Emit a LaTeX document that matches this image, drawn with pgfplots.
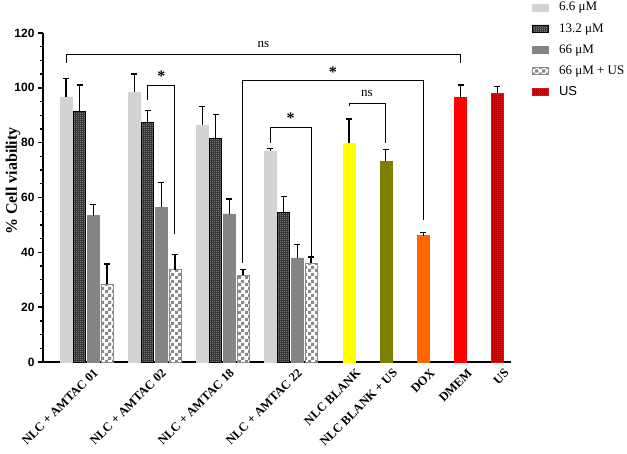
\documentclass[border=0pt]{standalone}
\usepackage{fontspec}
\setmainfont{Liberation Serif}
\newfontfamily\arialfont{Liberation Sans}
\usepackage{pgfplots}
\pgfplotsset{compat=1.18}
\usetikzlibrary{patterns}

% checkerboard fills
\pgfdeclarepatternformonly{finechecker}{\pgfpointorigin}{\pgfpoint{2pt}{2pt}}{\pgfpoint{2pt}{2pt}}{%
  \pgfpathrectangle{\pgfpointorigin}{\pgfpoint{1pt}{1pt}}%
  \pgfpathrectangle{\pgfpoint{1pt}{1pt}}{\pgfpoint{1pt}{1pt}}%
  \pgfusepath{fill}}
\pgfdeclarepatternformonly{coarsechecker}{\pgfpointorigin}{\pgfpoint{7pt}{7pt}}{\pgfpoint{7pt}{7pt}}{%
  \pgfpathrectangle{\pgfpointorigin}{\pgfpoint{3.5pt}{3.5pt}}%
  \pgfpathrectangle{\pgfpoint{3.5pt}{3.5pt}}{\pgfpoint{3.5pt}{3.5pt}}%
  \pgfusepath{fill}}

\definecolor{lgray}{HTML}{D3D3D3}
\definecolor{mgray}{HTML}{858585}
\definecolor{cgray}{HTML}{8A8A8A}
\definecolor{yel}{HTML}{FFFF00}
\definecolor{olv}{HTML}{808000}
\definecolor{org}{HTML}{FF6600}
\definecolor{rd}{HTML}{FF0000}
\definecolor{usred}{HTML}{E01010}
\definecolor{usdark}{HTML}{5A0000}

\begin{document}
\begin{tikzpicture}
\useasboundingbox (-43pt,-92pt) rectangle (584pt,362pt);
\begin{axis}[
  scale only axis,
  width=468pt, height=329pt,
  anchor=south west, at={(0,0)},
  xmin=-1.7, xmax=32.7,
  ymin=0, ymax=120,
  axis x line=bottom, axis y line=left,
  axis line style={-, line width=1.6pt},
  ytick={0,20,...,120},
  minor y tick num=3,
  tick align=outside,
  ytick style={line width=1.4pt, black},
  major tick length=5pt, minor tick length=3pt,
  yticklabel style={font=\arialfont\bfseries\fontsize{12}{14}\selectfont},
  /pgf/number format/assume math mode=true,
  xtick={1.5,6.5,11.5,16.5,20.8,23.5,26.25,29,31.7},
  xticklabels={NLC + AMTAC 01, NLC + AMTAC 02, NLC + AMTAC 18, NLC + AMTAC 22, NLC BLANK, NLC BLANK + US, DOX, DMEM, US},
  xtick style={draw=none},
  xticklabel style={rotate=45, anchor=north east, font=\bfseries\fontsize{12.5}{14}\selectfont, inner sep=1pt, xshift=5pt, yshift=-4pt},
  ylabel={\% Cell viability},
  every axis y label/.style={at={(axis description cs:-0.041,0.55)}, rotate=90, anchor=south, font=\bfseries\fontsize{16}{18}\selectfont},
  clip=false,
  bar width=0.88,
  legend style={at={(1.045,1.10)}, anchor=north west, draw=none, fill=none,
    font=\fontsize{13}{15}\selectfont, row sep=7pt, inner sep=0pt},
  legend cell align=left,
  legend image code/.code={\draw[#1] (0pt,-3.5pt) rectangle (16pt,3.5pt); \path (24pt,0pt);},
  error bars/y dir=plus, error bars/y explicit,
  error bars/error bar style={line width=1.3pt, black},
  error bars/error mark options={rotate=90, mark size=3pt, line width=1.3pt, black},
]
% 6.6 uM
\addplot[ybar, bar shift=0pt, fill=lgray, draw=lgray] coordinates {
  (0,96.5) +- (0,6.9)
  (5,98.5) +- (0,6.5)
  (10,86.4) +- (0,6.7)
  (15,77.0) +- (0,0.8)
};
\addlegendentry{6.6 μM}
% 13.2 uM
\addplot[ybar, bar shift=0pt, fill=black!85, draw=black, line width=0.8pt,
  postaction={pattern=finechecker, pattern color=gray!70}] coordinates {
  (1,91.3) +- (0,9.7)
  (6,87.3) +- (0,4.5)
  (11,81.4) +- (0,8.8)
  (16,54.5) +- (0,5.8)
};
\addlegendentry{13.2 μM}
% 66 uM
\addplot[ybar, bar shift=0pt, fill=mgray, draw=mgray] coordinates {
  (2,53.4) +- (0,4.1)
  (7,56.5) +- (0,8.9)
  (12,54.0) +- (0,5.4)
  (17,38.0) +- (0,4.9)
};
\addlegendentry{66 μM}
% 66 uM + US
\addplot[ybar, bar shift=0pt, fill=white, draw=cgray, line width=0.8pt,
  postaction={pattern=coarsechecker, pattern color=cgray}] coordinates {
  (3,28.4) +- (0,7.3)
  (8,33.6) +- (0,5.5)
  (13,31.6) +- (0,2.1)
  (18,36.1) +- (0,2.2)
};
\addlegendentry{66 μM + US}
% controls
\addplot[ybar, bar shift=0pt, fill=yel, draw=yel, forget plot] coordinates {(20.8,79.7) +- (0,8.9)};
\addplot[ybar, bar shift=0pt, fill=olv, draw=olv, forget plot] coordinates {(23.5,73.2) +- (0,4.2)};
\addplot[ybar, bar shift=0pt, fill=org, draw=org, forget plot] coordinates {(26.25,46.1) +- (0,1.2)};
\addplot[ybar, bar shift=0pt, fill=rd, draw=rd, forget plot] coordinates {(29,96.6) +- (0,4.4)};
\addplot[ybar, bar shift=0pt, fill=usred, draw=usred, line width=0.6pt,
  postaction={pattern=finechecker, pattern color=usdark}] coordinates {(31.7,98.0) +- (0,2.4)};
\addlegendentry{\arialfont US}

% significance brackets
\draw[line width=1pt] (axis cs:0,109) |- (axis cs:29,112) -- (axis cs:29,109.2);
\node[font=\fontsize{13}{15}\selectfont] at (axis cs:14.5,115.8) {ns};
\draw[line width=1pt] (axis cs:6,95.5) |- (axis cs:8,100.8) -- (axis cs:8,46.6);
\node[font=\bfseries\fontsize{16}{18}\selectfont] at (axis cs:7,104.2) {*};
\draw[line width=1pt] (axis cs:13,36) |- (axis cs:26.25,102.6) -- (axis cs:26.25,51.8);
\node[font=\bfseries\fontsize{16}{18}\selectfont] at (axis cs:19.6,105.8) {*};
\draw[line width=1pt] (axis cs:15,79.7) |- (axis cs:18,85.6) -- (axis cs:18,38.8);
\node[font=\bfseries\fontsize{16}{18}\selectfont] at (axis cs:16.5,89.0) {*};
\draw[line width=1pt] (axis cs:20.8,93.5) |- (axis cs:23.5,94.2) -- (axis cs:23.5,79.7);
\node[font=\fontsize{13}{15}\selectfont] at (axis cs:22.1,97.8) {ns};
\end{axis}
\end{tikzpicture}
\end{document}
